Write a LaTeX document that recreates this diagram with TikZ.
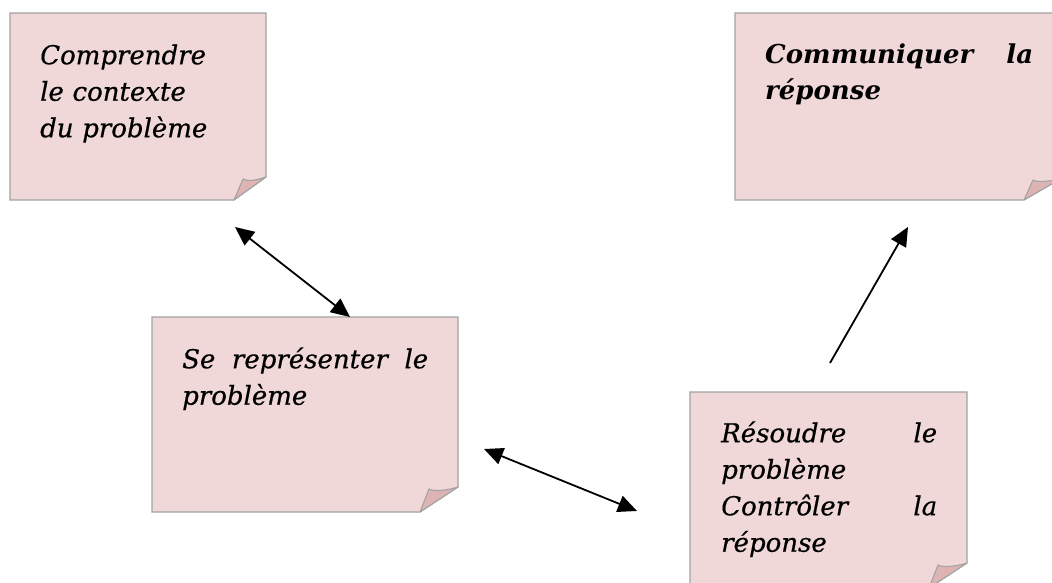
\documentclass[tikz,border=0pt]{standalone}
\usepackage{fontspec}
\setmainfont{DejaVu Serif}
\usetikzlibrary{arrows.meta,calc}
\definecolor{notepink}{HTML}{F0D8D8}
\definecolor{flappink}{HTML}{DDB3B3}
\definecolor{noteedge}{HTML}{A3A3A3}
\tikzset{
  notearea/.style={rectangle, inner sep=0pt, outer sep=0pt},
  notebody/.style={fill=notepink, draw=noteedge, line width=1.1pt, line join=miter},
  noteflap/.style={fill=flappink, draw=noteedge, line width=1.1pt, line join=round},
  notetext/.style={anchor=north west, inner sep=0pt, align=left,
    font=\fontsize{26}{36.5}\selectfont\itshape\addfontfeature{FakeBold=0.6}},
  link/.style={line width=1.8pt, draw=black},
  tipend/.style={-{Triangle[length=19pt,width=17pt]}},
  tipboth/.style={{Triangle[length=19pt,width=17pt]}-{Triangle[length=19pt,width=17pt]}}
}
\newcommand\drawnote[3]{%
  \path[notebody] (#1.north west) -- (#1.north east) -- ($(#1.south east)+(0,-#3)$)
     -- ($(#1.south east)+(-#2,0)$) -- (#1.south west) -- cycle;
  \path[noteflap] ($(#1.south east)+(-#2,0)$) -- ($(#1.south east)+(-#2+9,-#3+2)$)
     .. controls ($(#1.south east)+(-#2+14,-#3+5)$) and ($(#1.south east)+(-9,-#3+3)$)
     .. ($(#1.south east)+(0,-#3)$) -- cycle;}
\begin{document}
\begin{tikzpicture}[x=1pt,y=-1pt]
\useasboundingbox (0,0) rectangle (1052,583);
\clip (0,0) rectangle (1052,583);
% note areas
\node[notearea, minimum width=256pt, minimum height=187pt] (b1) at (138,106.5) {};
\node[notearea, minimum width=327pt, minimum height=187pt] (b2) at (898.5,106.5) {};
\node[notearea, minimum width=306pt, minimum height=195pt] (b3) at (305,414.5) {};
\node[notearea, minimum width=277pt, minimum height=196pt] (b4) at (828.5,490) {};
\drawnote{b1}{32}{23}
\drawnote{b2}{38}{22}
\drawnote{b3}{38}{25}
\drawnote{b4}{38}{25}
% texts
\node[notetext, text width=196pt] (t1) at (40,38)
  {\rule{0pt}{26pt}Comprendre\\le contexte\\du problème};
\node[notetext, text width=268pt, font=\fontsize{26}{36.5}\selectfont\bfseries\itshape] (t2) at (765,37)
  {\rule{0pt}{26pt}Communiquer\hfill la\\réponse};
\node[notetext, text width=246pt] (t3) at (182,342)
  {\rule{0pt}{26pt}Se\hfill représenter\hfill le\\problème};
\node[notetext, text width=216pt] (t4) at (721,416)
  {\rule{0pt}{26pt}Résoudre\hfill le\\problème\\Contrôler\hfill la\\réponse};
% connector ends
\coordinate (a1s) at (235,227);
\coordinate (a1e) at (350,317);
\coordinate (a2s) at (484,449);
\coordinate (a2e) at (637,511);
\coordinate (a3s) at (830,363);
\coordinate (a3e) at (908,227);
\draw[link, tipboth] (a1s) -- (a1e);
\draw[link, tipboth] (a2s) -- (a2e);
\draw[link, tipend] (a3s) -- (a3e);
\end{tikzpicture}
\end{document}
